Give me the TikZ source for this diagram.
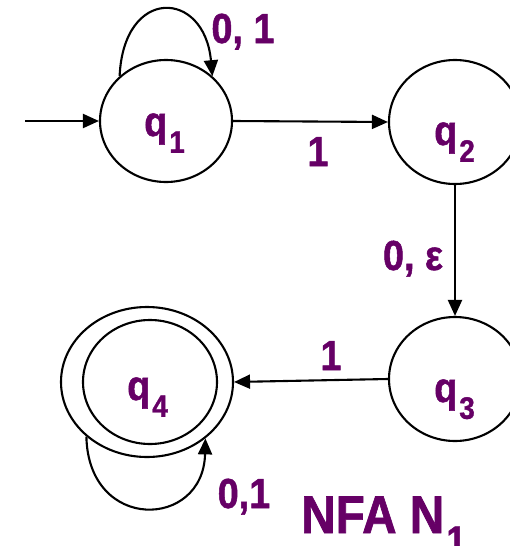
\documentclass[tikz,border=0pt]{standalone}
\usepackage{fontspec}
\setmainfont{Liberation Sans}[FakeStretch=0.9,FakeBold=1.2]
\usetikzlibrary{shapes.geometric,arrows.meta,calc}
\definecolor{lblpurple}{HTML}{660066}
\newcommand\subtxt[2]{\hspace{2pt}\raisebox{-0.4em}{\fontsize{#1}{#1}\selectfont #2}}
\tikzset{
  state/.style={ellipse, draw, line width=2.1pt, inner sep=0pt},
  edge/.style={line width=2.1pt, -{Triangle[length=16pt,width=14pt]}},
  lbl/.style={text=lblpurple, font=\bfseries\fontsize{42}{42}\selectfont, inner sep=0pt, anchor=base},
  qlbl/.style={lbl, anchor=base west},
}
\begin{document}
\begin{tikzpicture}[x=1pt,y=-1pt]
\useasboundingbox (0,0) rectangle (509,546);
% states
\node[state, minimum width=132pt, minimum height=122pt] (q1) at (166,121) {};
\node[state, minimum width=132pt, minimum height=124pt] (q2) at (455,122) {};
\node[state, minimum width=132pt, minimum height=124pt] (q3) at (455,379) {};
\node[state, minimum width=172pt, minimum height=150pt] (q4o) at (147,382) {};
\node[state, minimum width=134pt, minimum height=124pt] (q4i) at (150,382) {};
% state labels
\node[qlbl] (t1) at (144,136) {q\subtxt{31}{1}};
\node[qlbl] (t2) at (434,145) {q\subtxt{31}{2}};
\node[qlbl] (t3) at (434,402) {q\subtxt{31}{3}};
\node[qlbl] (t4) at (127,400) {q\subtxt{31}{4}};
% edges
\coordinate (start) at (25,121);
\draw[edge] (start) -- (q1.west);
\draw[edge] (q1.east) -- (q2.west);
\draw[edge] (q2.south) -- (q3.north);
\draw[edge] (q3.west) -- (q4o.east);
\draw[edge] (q1.136) .. controls ($(q1.136)+(4,-90)$) and ($(q1.44)+(-8,-87)$) .. (q1.44);
\draw[edge] (q4o.222) .. controls ($(q4o.222)+(2,96)$) and ($(q4o.316)+(-2,91)$) .. (q4o.316);
% edge labels
\node[lbl] (l01a) at (243,43) {0, 1};
\node[lbl] (l1a) at (318,166) {1};
\node[lbl] (l0e) at (413,270) {0, ε};
\node[lbl] (l1b) at (331,370) {1};
\node[lbl] (l01b) at (244,508) {0,1};
\node[lbl, anchor=base west, font=\bfseries\fontsize{53}{53}\selectfont] (title) at (301,533) {NFA N\subtxt{40}{1}};
\end{tikzpicture}
\end{document}
